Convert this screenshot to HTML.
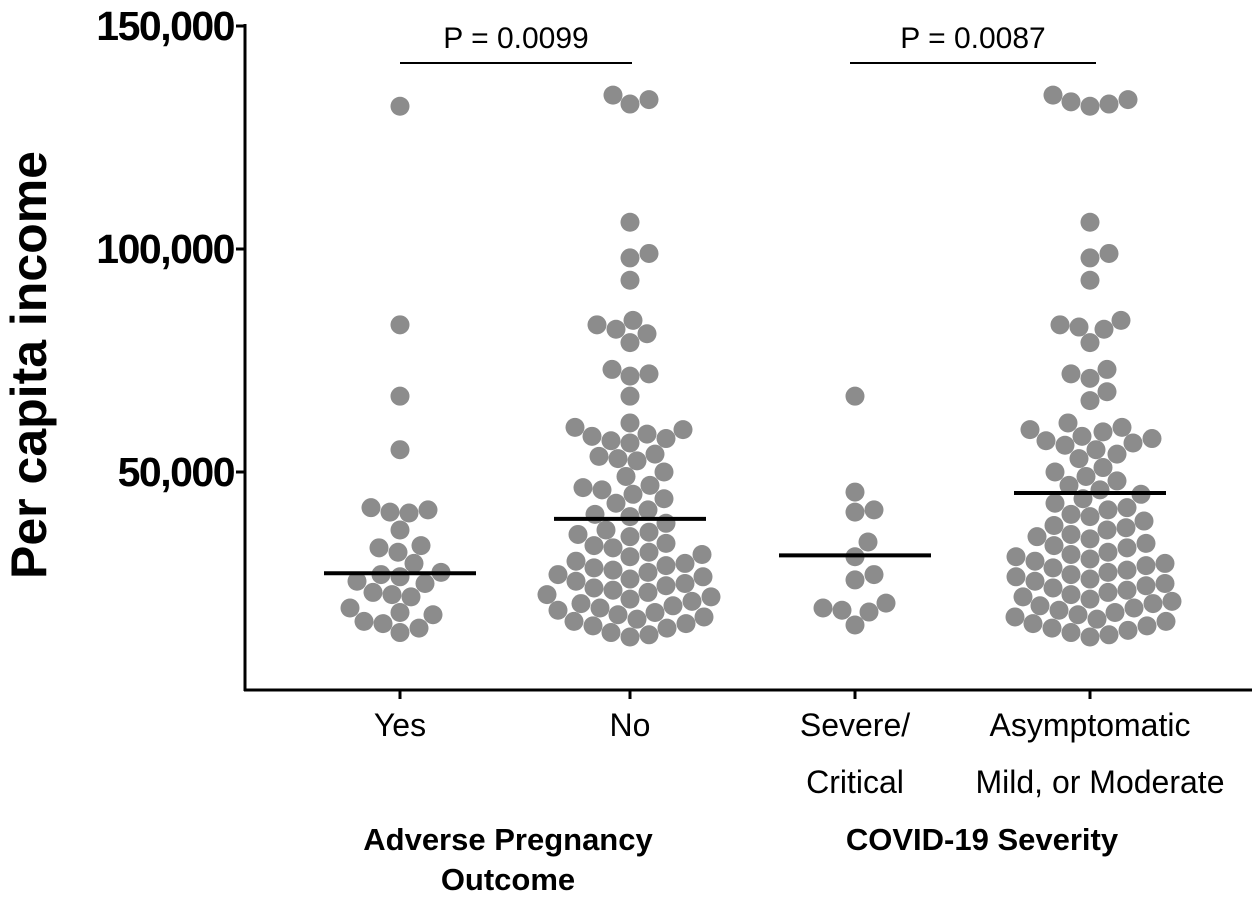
<!DOCTYPE html>
<html><head><meta charset="utf-8"><style>
body{margin:0;background:#fff}
svg text{font-family:"Liberation Sans",Arial,sans-serif}
</style></head><body>
<svg id="c" width="1260" height="901" xmlns="http://www.w3.org/2000/svg">
<line x1="245" y1="24" x2="245" y2="691" stroke="#000" stroke-width="3"/>
<line x1="244" y1="690" x2="1252" y2="690" stroke="#000" stroke-width="3"/>
<text transform="translate(46,365) rotate(-90)" text-anchor="middle" font-size="50" font-weight="bold">Per capita income</text>
<g id="yt"></g><g id="marks"></g>
<line x1="400" y1="63" x2="632" y2="63" stroke="#000" stroke-width="2"/>
<text x="516" y="48" text-anchor="middle" font-size="30">P = 0.0099</text>
<line x1="850" y1="63" x2="1096" y2="63" stroke="#000" stroke-width="2"/>
<text x="973" y="48" text-anchor="middle" font-size="30">P = 0.0087</text>
<g font-size="32" text-anchor="middle">
<text x="400" y="736">Yes</text>
<text x="630" y="736">No</text>
<text x="855" y="736"><tspan x="855">Severe/</tspan><tspan x="855" dy="57">Critical</tspan></text>
<text x="1092" y="736"><tspan x="1090">Asymptomatic</tspan><tspan x="1100" dy="57">Mild, or Moderate</tspan></text>
</g>
<g font-size="31" font-weight="bold" text-anchor="middle">
<text x="508" y="850"><tspan x="508">Adverse Pregnancy</tspan><tspan x="508" dy="40">Outcome</tspan></text>
<text x="982" y="850">COVID-19 Severity</text>
</g>
</svg>
<script>
const categories=["Yes","No","Severe/Critical","Asymptomatic"];
const centers=[400,630,855,1090];
const yTicks=[50000,100000,150000];
const yTickLabels=["50,000","100,000","150,000"];
const medians=[27300,39500,31300,45300];
const valsYes=[132000,83000,67000,55000,42000,41500,41000,40800,37000,33500,33000,32000,29500,27500,27000,26500,25500,25000,23000,22500,22000,19500,18500,18000,16500,16000,15000,14000];
const valsNo=[134500,133500,132500,106000,99000,98000,93000,84000,83000,82000,81000,79000,73000,72000,71500,67000,61000,60000,59500,58500,58000,57500,57000,56500,54000,53500,53000,52500,50000,49000,47000,46500,46000,45000,44000,43000,41500,40500,40000,38500,37000,36500,36000,35500,34000,33500,33000,32000,31500,31000,30000,29500,29000,28500,28000,27500,27000,26500,26000,25500,25000,24500,24000,23500,23000,22500,22000,21500,21000,20500,20000,19500,19000,18500,18000,17500,17000,16500,16000,15500,15000,14000,13500,13000];
const valsSevere=[67000,45500,41500,41000,34300,31000,27000,25800,20600,19500,19000,18600,15700];
const valsAsym=[134500,133500,133000,132500,132000,106000,99000,98000,93000,84000,83000,82500,82000,79000,73000,72000,71000,68000,66000,61000,60000,59500,59000,58000,57500,57000,56500,56000,55000,54000,53000,51000,50000,49000,48000,47000,46000,45000,44000,43000,42000,41500,40500,40000,39000,38000,37500,37000,36000,35500,35000,34000,33500,33000,32000,31500,31000,30500,30000,29500,29000,28500,28000,27500,27000,26500,26000,25500,25000,24500,24000,23500,23000,22500,22000,21500,21000,20500,20000,19500,19000,18500,18000,17500,17000,16500,16000,15500,15000,14500,14000,13500,13000];
const groups=[valsYes,valsNo,valsSevere,valsAsym];
const y=v=>695-v*0.00446;
const NS="http://www.w3.org/2000/svg";
const svg=document.getElementById('c'),yt=document.getElementById('yt'),mk=document.getElementById('marks');
function el(t,a,p){const e=document.createElementNS(NS,t);for(const k in a)e.setAttribute(k,a[k]);p.appendChild(e);return e;}
yTicks.forEach((v,i)=>{
 const l=el('line',{x1:236,x2:245,y1:y(v),y2:y(v),stroke:'#000','stroke-width':3},yt);
 
 
 const t=el('text',{x:234,y:y(v)+14,'text-anchor':'end','font-size':41,'font-weight':'bold','letter-spacing':'-1.5'},yt);
 t.textContent=yTickLabels[i];
 
 
});
const R=9.5;
groups.forEach((vals,g)=>{
 const cx=centers[g];
 const tk=el('line',{x1:cx,x2:cx,y1:690,y2:699,stroke:'#000','stroke-width':3},mk);
 
 
 const placed=[];
 [...vals].sort((a,b)=>a-b).forEach(v=>{
  const py=y(v);let best=0;
  for(let s=0;s<200;s+=1){
   let ok=false;
   for(const off of (s===0?[0]:[s,-s])){
    if(placed.every(p=>(p[0]-off)**2+(p[1]-py)**2>=(2*R)**2)){best=off;ok=true;break;}
   }
   if(ok)break;
  }
  placed.push([best,py]);
  const c=el('circle',{cx:cx+best,cy:py,r:R,fill:'#8c8c8c'},mk);
  
  
 });
 const m=el('line',{x1:cx-76,x2:cx+76,y1:y(medians[g]),y2:y(medians[g]),stroke:'#000','stroke-width':4},mk);
 
 
});
</script>
</body></html>
